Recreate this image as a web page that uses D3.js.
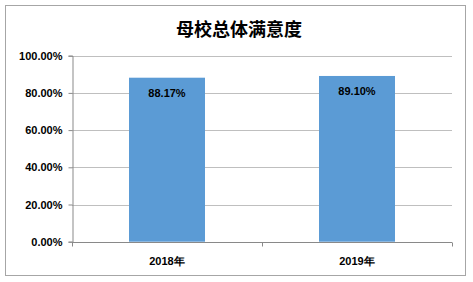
<!DOCTYPE html>
<html>
<head>
<meta charset="utf-8">
<script src="https://cdn.jsdelivr.net/npm/d3@7"></script>
<style>
  body { margin: 0; background: #fff; }
  text { font-family: "Liberation Sans", Arial, sans-serif; }
</style>
</head>
<body>
<div id="chart"></div>
<script>
var title = "母校总体满意度";
var categories = ["2018年", "2019年"];
var values = [88.17, 89.10];
var tickValues = [0, 20, 40, 60, 80, 100];

var width = 473, height = 282;
var plot = { left: 72, right: 452, top: 55.7, bottom: 241.7 };

var svg = d3.select("#chart").append("svg")
    .attr("width", width)
    .attr("height", height);

// outer frame
svg.append("rect")
    .attr("x", 5.5).attr("y", 5.5)
    .attr("width", 460).attr("height", 270)
    .attr("fill", "#fff")
    .attr("stroke", "#a6a6a6")
    .attr("stroke-width", 1);

svg.append("text")
    .attr("x", 239).attr("y", 36)
    .attr("text-anchor", "middle")
    .attr("font-size", 18)
    .attr("font-weight", "bold")
    .style("font-family", "'Noto Sans CJK SC', sans-serif")
    .text(title);

var x = d3.scaleBand()
    .domain(categories)
    .range([plot.left, plot.right])
    .paddingInner(0.6)
    .paddingOuter(0.3);

var y = d3.scaleLinear()
    .domain([0, 100])
    .range([plot.bottom, plot.top]);

// gridlines
svg.append("g")
    .selectAll("line")
    .data(tickValues.filter(function(d){ return d > 0; }))
    .enter()
    .append("line")
    .attr("x1", plot.left).attr("x2", plot.right)
    .attr("y1", function(d){ return Math.round(y(d)) + 0.5; })
    .attr("y2", function(d){ return Math.round(y(d)) + 0.5; })
    .attr("stroke", "#bfbfbf");

// bars
svg.append("g")
    .selectAll("rect")
    .data(values)
    .enter()
    .append("rect")
    .attr("x", function(d,i){ return x(categories[i]); })
    .attr("y", function(d){ return y(d); })
    .attr("width", x.bandwidth())
    .attr("height", function(d){ return y(0) - y(d); })
    .attr("fill", "#5b9bd5");

// value labels
svg.append("g")
    .selectAll("text")
    .data(values)
    .enter()
    .append("text")
    .attr("x", function(d,i){ return x(categories[i]) + x.bandwidth() / 2; })
    .attr("y", function(d){ return y(d) + 19; })
    .attr("text-anchor", "middle")
    .attr("font-size", 11)
    .attr("font-weight", "bold")
    .text(function(d){ return d.toFixed(2) + "%"; });

// y axis
var yAxis = svg.append("g")
    .attr("transform", "translate(" + (plot.left + 0.5) + ",0)")
    .call(d3.axisLeft(y)
        .tickValues(tickValues)
        .tickSize(4)
        .tickPadding(6)
        .tickFormat(function(d){ return d.toFixed(2) + "%"; }));
yAxis.selectAll("path, line").attr("stroke", "#898989");
yAxis.selectAll("text")
    .attr("font-size", 11)
    .attr("font-weight", "bold")
    .attr("fill", "#000")
    .style("font-family", "'Liberation Sans', Arial, sans-serif");

// x axis
var xAxisG = svg.append("g")
    .attr("transform", "translate(0," + (Math.round(plot.bottom) + 0.5) + ")");
xAxisG.append("line")
    .attr("x1", plot.left).attr("x2", plot.right)
    .attr("stroke", "#898989");
var boundaries = [plot.left, (plot.left + plot.right) / 2, plot.right];
xAxisG.selectAll(".tk")
    .data(boundaries)
    .enter()
    .append("line")
    .attr("x1", function(d){ return Math.round(d) + 0.5; })
    .attr("x2", function(d){ return Math.round(d) + 0.5; })
    .attr("y1", 0).attr("y2", 4)
    .attr("stroke", "#898989");
xAxisG.selectAll(".cat")
    .data(categories)
    .enter()
    .append("text")
    .attr("x", function(d){ return x(d) + x.bandwidth() / 2; })
    .attr("y", 22)
    .attr("text-anchor", "middle")
    .attr("font-size", 11)
    .attr("font-weight", "bold")
    .text(function(d){ return d; });
</script>
</body>
</html>
